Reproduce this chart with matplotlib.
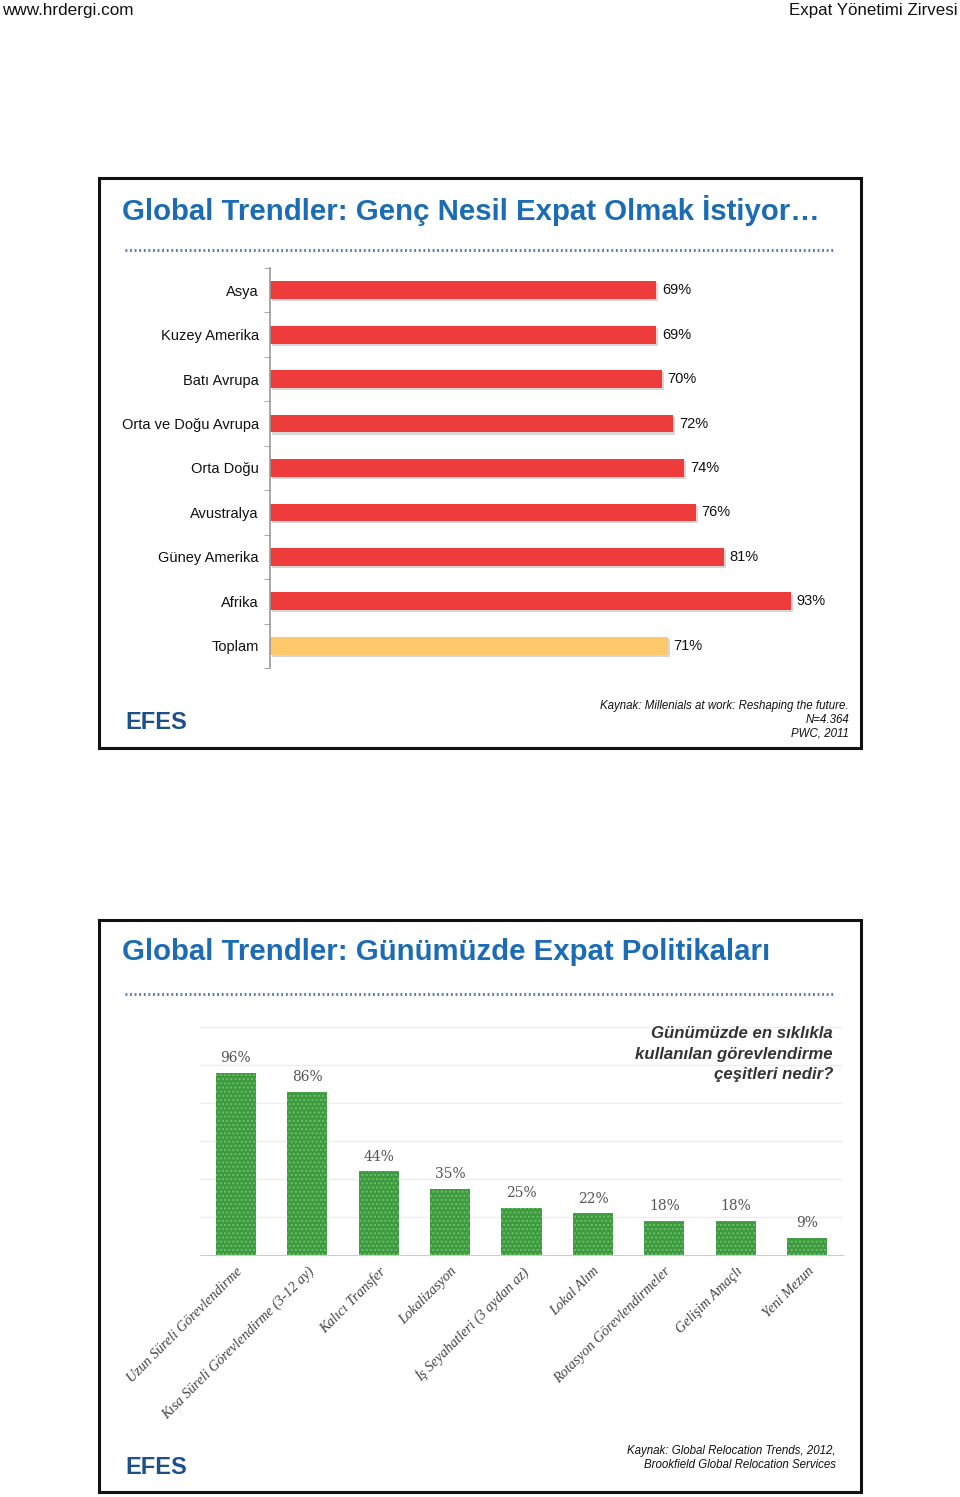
import matplotlib
matplotlib.use("Agg")
import matplotlib.pyplot as plt
from matplotlib.patches import Rectangle
from matplotlib.lines import Line2D
import matplotlib.patheffects as pe

# data
regions = ["Asya", "Kuzey Amerika", "Batı Avrupa", "Orta ve Doğu Avrupa", "Orta Doğu",
           "Avustralya", "Güney Amerika", "Afrika", "Toplam"]
region_vals = [69, 69, 70, 72, 74, 76, 81, 93, 71]

types = ["Uzun Süreli Görevlendirme", "Kısa Süreli Görevlendirme (3-12 ay)", "Kalıcı Transfer",
         "Lokalizasyon", "İş Seyahatleri (3 aydan az)", "Lokal Alım",
         "Rotasyon Görevlendirmeler", "Gelişim Amaçlı", "Yeni Mezun"]
type_vals = [96, 86, 44, 35, 25, 22, 18, 18, 9]

W, H = 960, 1497
fig = plt.figure(figsize=(W / 100, H / 100), dpi=100)
plt.rcParams['font.family'] = ['Liberation Sans', 'DejaVu Sans']

def fx(x):
    return x / W

def fy(y):
    return 1 - y / H

def ax_rect(x0, y0, x1, y1):
    # pixel box (top-left origin) -> figure rect
    return [fx(x0), fy(y1), fx(x1 - x0), (y1 - y0) / H]

blue = "#1b6cb4"
navy = "#1d4f8a"

# header
fig.text(fx(2), fy(10), "www.hrdergi.com", fontsize=12.3, va="center", ha="left", color="#111")
fig.text(fx(958), fy(10), "Expat Yönetimi Zirvesi", fontsize=12.2, va="center", ha="right", color="#111")

def panel(y0, y1, title, title_y, dot_y):
    fig.patches.append(Rectangle((fx(99), fy(y1)), fx(861 - 99), (y1 - y0) / H,
                                 transform=fig.transFigure, fill=False, lw=2.2, ec="#111"))
    fig.text(fx(122), fy(title_y), title, fontsize=21.2, fontweight="bold", color=blue,
             va="center", ha="left")
    fig.lines.append(Line2D([fx(125), fx(834)], [fy(dot_y), fy(dot_y)], transform=fig.transFigure,
                            color="#5b7fa8", lw=2.2, ls=(0, (0.6, 0.9))))
    fig.text(fx(125), fy(y1 - 25), "EFES", fontsize=17, fontweight="bold", color=navy,
             va="center", ha="left")

panel(178, 748, "Global Trendler: Genç Nesil Expat Olmak İstiyor…", 210, 250)
panel(920, 1492, "Global Trendler: Günümüzde Expat Politikaları", 952, 994)

# chart 1 - horizontal bars
ax1 = fig.add_axes(ax_rect(270, 268, 830, 668))
cols = ["#ee3b3b"] * (len(regions) - 1) + ["#fdc96a"]
ypos = list(range(len(regions)))
bars = ax1.barh(ypos, region_vals, height=0.4, color=cols)
for b in bars:
    b.set_path_effects([pe.SimplePatchShadow(offset=(1.5, -1.5), shadow_rgbFace="#bbbbbb", alpha=0.6),
                        pe.Normal()])
for y, v in zip(ypos, region_vals):
    ax1.text(v + 1, y, f"{v}%", va="center", ha="left", fontsize=10.5, color="#111")
ax1.set_xlim(0, 100)
ax1.set_ylim(len(regions) - 0.5, -0.5)
ax1.set_yticks(ypos)
ax1.set_yticklabels(regions, fontsize=10.5, color="#111")
ax1.set_yticks([i - 0.5 for i in range(len(regions) + 1)], minor=True)
ax1.tick_params(axis="y", which="major", length=0, pad=8)
ax1.tick_params(axis="y", which="minor", length=4, color="#999", direction="out")
ax1.set_xticks([])
for s in ["top", "right", "bottom"]:
    ax1.spines[s].set_visible(False)
ax1.spines["left"].set_color("#999")
ax1.spines["left"].set_linewidth(1.2)

src1 = ["Kaynak: Millenials at work: Reshaping the future.", "N=4.364", "PWC, 2011"]
for i, line in enumerate(src1):
    fig.text(fx(849), fy(706 + 14 * i), line, fontsize=8.3, style="italic",
             ha="right", va="center", color="#111")

# chart 2 - vertical bars
ax2 = fig.add_axes(ax_rect(200, 1027, 843, 1255))
xpos = list(range(len(types)))
ax2.bar(xpos, type_vals, width=0.56, color="#3e9a3e", edgecolor="#6cbf6c", hatch="....", lw=0)
for x, v in zip(xpos, type_vals):
    ax2.text(x, v + 4, f"{v}%", ha="center", va="bottom", fontsize=10, color="#555",
             family="DejaVu Serif")
ax2.set_xlim(-0.5, len(types) - 0.5)
ax2.set_ylim(0, 120)
ax2.set_yticks([20, 40, 60, 80, 100, 120])
ax2.yaxis.grid(True, color="#eeeeee", lw=1)
ax2.set_axisbelow(True)
ax2.tick_params(axis="y", length=0, labelleft=False)
ax2.set_xticks(xpos)
ax2.set_xticklabels(types, rotation=45, ha="right", va="top", rotation_mode="anchor",
                    fontsize=10.3, style="italic", color="#444", family="Liberation Serif")
ax2.tick_params(axis="x", length=0, pad=7)
for s in ["top", "right", "left"]:
    ax2.spines[s].set_visible(False)
ax2.spines["bottom"].set_color("#cccccc")

for i, line in enumerate(["Günümüzde en sıklıkla", "kullanılan görevlendirme", "çeşitleri nedir?"]):
    fig.text(fx(833), fy(1033 + 21 * i), line, fontsize=12.1, fontweight="bold", style="italic",
             ha="right", va="center", color="#333")

src2 = ["Kaynak: Global Relocation Trends, 2012,", "Brookfield Global Relocation Services"]
for i, line in enumerate(src2):
    fig.text(fx(836), fy(1451 + 14 * i), line, fontsize=8.3, style="italic",
             ha="right", va="center", color="#111")

fig.savefig("out.png", dpi=100)
